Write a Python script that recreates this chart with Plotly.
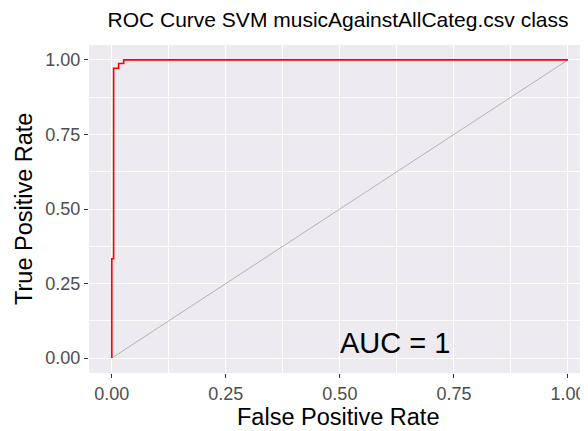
import plotly.graph_objects as go

fpr = [0, 0, 0.004, 0.004, 0.015, 0.015, 0.026, 0.026, 1.0]
tpr = [0, 0.333, 0.333, 0.972, 0.972, 0.988, 0.988, 1.0, 1.0]
diag_x = [0, 1]
diag_y = [0, 1]
tick_vals = [0, 0.25, 0.5, 0.75, 1.0]
tick_text = ["0.00", "0.25", "0.50", "0.75", "1.00"]

FONT = "Liberation Sans, Arial"
OFF = 8  # page body margin offset
W, H = 588, 431
L, T = 89 - OFF, 45 - OFF
R = W - (588 - OFF)
B = H - (373 - OFF)
PW, PH = W - L - R, H - T - B

fig = go.Figure()
fig.add_trace(go.Scatter(x=diag_x, y=diag_y, mode="lines",
                         line=dict(color="#B3B3B3", width=1), hoverinfo="skip"))
fig.add_trace(go.Scatter(x=fpr, y=tpr, mode="lines",
                         line=dict(color="#FF0000", width=1.6)))

fig.add_annotation(x=0.5, y=0.05, text="AUC = 1", showarrow=False,
                   xanchor="left", yanchor="middle", xshift=-2,
                   font=dict(family=FONT, size=29, color="black"))

# axis titles
fig.add_annotation(xref="paper", yref="paper", x=(338 - OFF - L) / PW,
                   y=(H - B - (417 - OFF)) / PH,
                   text="False Positive Rate", showarrow=False,
                   xanchor="center", yanchor="middle",
                   font=dict(family=FONT, size=23.5, color="black"))
fig.add_annotation(xref="paper", yref="paper", x=(24 - OFF - L) / PW, y=0.5,
                   text="True Positive Rate", showarrow=False, textangle=-90,
                   xanchor="center", yanchor="middle",
                   font=dict(family=FONT, size=23.5, color="black"))

axis_common = dict(
    tickvals=tick_vals, ticktext=tick_text,
    showgrid=True, gridcolor="white", gridwidth=1.4,
    zeroline=False, showline=False, automargin=False,
    ticks="outside", ticklen=4, tickwidth=1, tickcolor="#333333",
    tickfont=dict(family=FONT, size=18, color="#4D4D4D"),
    minor=dict(tickvals=[0.125, 0.375, 0.625, 0.875], showgrid=True,
               gridcolor="white", gridwidth=0.7, ticks=""),
)

fig.update_layout(
    width=W, height=H,
    margin=dict(l=L, r=R, t=T, b=B, pad=0),
    paper_bgcolor="white", plot_bgcolor="#EDEBEF",
    showlegend=False,
    title=dict(text="ROC Curve SVM musicAgainstAllCateg.csv class",
               x=(338 - OFF) / W, xanchor="center", y=1 - (20 - OFF) / H, yanchor="middle",
               font=dict(family=FONT, size=21, color="black")),
    xaxis=dict(range=[-0.05, 1.044], **axis_common),
    yaxis=dict(range=[-0.05, 1.05], **axis_common),
)

fig.write_html("out.html")
